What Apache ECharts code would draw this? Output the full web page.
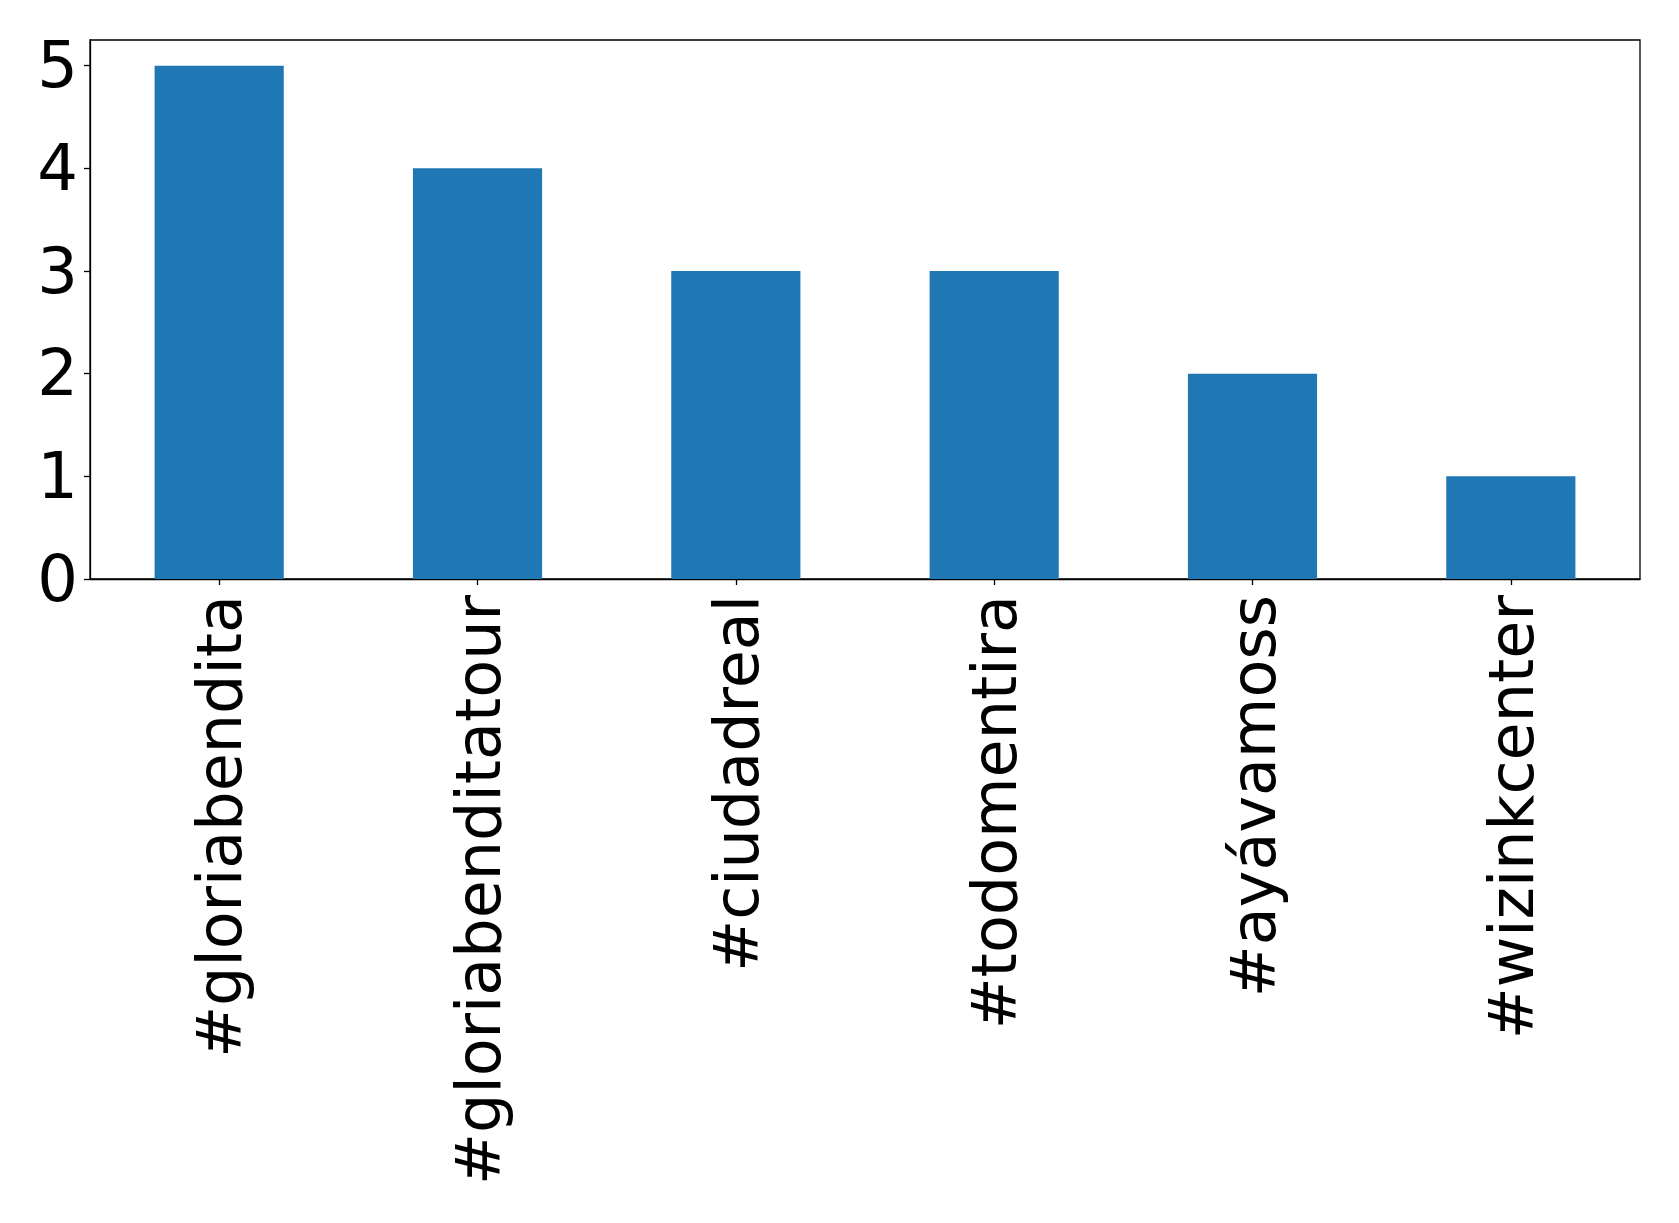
<!DOCTYPE html>
<html>
<head>
<meta charset="utf-8">
<script src="https://cdn.jsdelivr.net/npm/echarts@6/dist/echarts.min.js"></script>
<style>html,body{margin:0;padding:0;background:#fff}#c{width:1679px;height:1223px}</style>
</head>
<body>
<div id="c"></div>
<script>
const categories = ['#gloriabendita', '#gloriabenditatour', '#ciudadreal', '#todomentira', '#ayávamoss', '#wizinkcenter'];
const counts = [5, 4, 3, 3, 2, 1];
const yTicks = [0, 1, 2, 3, 4, 5];

const chart = echarts.init(document.getElementById('c'), null, {renderer: 'canvas'});
chart.setOption({
  animation: false,
  backgroundColor: '#ffffff',
  grid: {left: 90, top: 40, right: 39, bottom: 644, show: true, borderColor: '#000', borderWidth: 1.3, backgroundColor: 'transparent'},
  xAxis: {
    type: 'category',
    data: categories,
    axisLine: {show: true, lineStyle: {color: '#000', width: 1.3}},
    axisTick: {show: true, alignWithLabel: true, length: 6, lineStyle: {color: '#000', width: 1.3}},
    axisLabel: {
      rotate: 90, margin: 16, interval: 0,
      formatter: v => '{t|' + v + '}',
      rich: {t: {color: '#000', fontSize: 62, fontFamily: 'DejaVu Sans', padding: [12, 0, 0, 0]}}
    }
  },
  yAxis: {
    type: 'value',
    min: 0, max: 5.25, interval: 1,
    splitLine: {show: false},
    axisLine: {show: true, lineStyle: {color: '#000', width: 1.3}},
    axisTick: {show: true, length: 6, lineStyle: {color: '#000', width: 1.3}},
    axisLabel: {
      margin: 12,
      showMaxLabel: false,
      formatter: v => yTicks.includes(v) ? '{n|' + v + '}' : '',
      rich: {n: {color: '#000', fontSize: 64, fontFamily: 'DejaVu Sans', padding: [10, 0, 0, 0]}}
    }
  },
  series: [{
    type: 'bar',
    data: counts,
    barWidth: '50%',
    itemStyle: {color: '#1f77b4'}
  }]
});
</script>
</body>
</html>
